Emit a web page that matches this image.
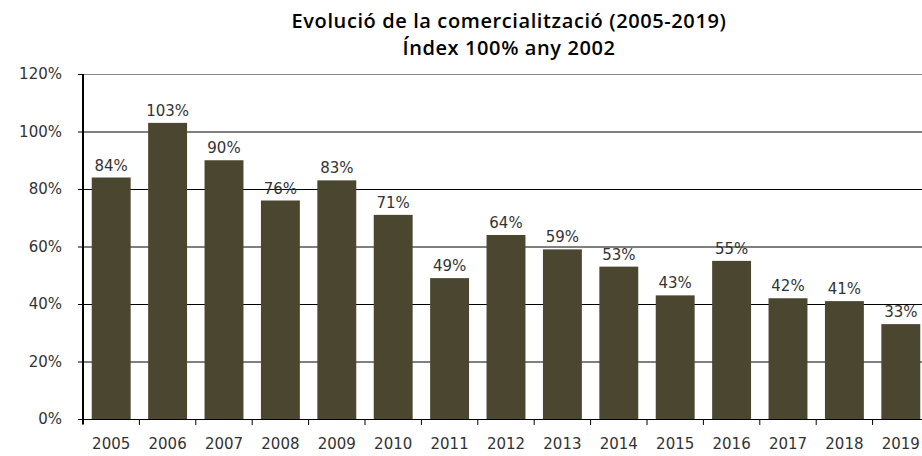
<!DOCTYPE html>
<html>
<head>
<meta charset="utf-8">
<script src="https://cdn.jsdelivr.net/npm/d3@7"></script>
<style>
  body { margin: 0; background: #fff; }
  svg { display: block; }
</style>
</head>
<body>
<div id="chart"></div>
<script>
const years = ["2005", "2006", "2007", "2008", "2009", "2010", "2011", "2012",
  "2013", "2014", "2015", "2016", "2017", "2018", "2019"];
const values = [84, 103, 90, 76, 83, 71, 49, 64, 59, 53, 43, 55, 42, 41, 33];
const yTicks = [0, 20, 40, 60, 80, 100, 120];
const titleLines = ["Evolució de la comercialització (2005-2019)", "Índex 100% any 2002"];

const drawChart = () => {
  const dimensions = {
    width: 922,
    height: 456,
    left: 83,
    right: 929,
    top: 74,
    bottom: 419,
  };
  const barColor = "#4b4630";
  const textColor = "#333";

  const svg = d3
    .select("#chart")
    .append("svg")
    .attr("width", dimensions.width)
    .attr("height", dimensions.height);

  // Scales
  const xScale = d3
    .scaleBand()
    .domain(years)
    .range([dimensions.left, dimensions.right])
    .paddingInner(0.31)
    .paddingOuter(0.155);

  const yScale = d3
    .scaleLinear()
    .domain([0, 120])
    .range([dimensions.bottom, dimensions.top]);

  // Title
  svg
    .append("g")
    .selectAll("text")
    .data(titleLines)
    .join("text")
    .attr("x", 509)
    .attr("y", (d, i) => 28 + i * 27)
    .attr("text-anchor", "middle")
    .attr("font-family", "'Open Sans', sans-serif")
    .attr("font-weight", 600)
    .attr("font-size", "20px")
    .attr("letter-spacing", "0.6px")
    .attr("fill", "#000")
    .text((d) => d);

  // Gridlines
  svg
    .append("g")
    .selectAll("line")
    .data(yTicks.filter((d) => d > 0))
    .join("line")
    .attr("x1", dimensions.left)
    .attr("x2", dimensions.right)
    .attr("y1", (d) => yScale(d) + 0.5)
    .attr("y2", (d) => yScale(d) + 0.5)
    .attr("stroke", (d) => (d === 120 ? "#888" : "#000"))
    .attr("stroke-width", 1);

  // Bars
  svg
    .append("g")
    .selectAll("rect")
    .data(values)
    .join("rect")
    .attr("x", (d, i) => xScale(years[i]))
    .attr("y", (d) => yScale(d))
    .attr("width", xScale.bandwidth())
    .attr("height", (d) => yScale(0) - yScale(d))
    .attr("fill", barColor);

  // Bar labels
  svg
    .append("g")
    .selectAll("text")
    .data(values)
    .join("text")
    .attr("x", (d, i) => xScale(years[i]) + xScale.bandwidth() / 2)
    .attr("y", (d) => yScale(d) - 7)
    .attr("text-anchor", "middle")
    .attr("font-family", "'DejaVu Sans', sans-serif")
    .attr("font-size", "15px")
    .attr("fill", textColor)
    .text((d) => d + "%");

  // Y axis
  const yAxis = d3
    .axisLeft(yScale)
    .tickValues(yTicks)
    .tickFormat((d) => d + "%")
    .tickSize(5)
    .tickPadding(16);

  const yAxisGroup = svg
    .append("g")
    .attr("transform", `translate(${dimensions.left},0)`)
    .call(yAxis);
  yAxisGroup.select(".domain").remove();
  yAxisGroup.selectAll(".tick line").attr("stroke", "#000");
  yAxisGroup
    .selectAll(".tick text")
    .attr("font-family", "'DejaVu Sans', sans-serif")
    .attr("font-size", "15px")
    .attr("fill", textColor);

  svg
    .append("line")
    .attr("x1", dimensions.left)
    .attr("x2", dimensions.left)
    .attr("y1", dimensions.top)
    .attr("y2", dimensions.bottom + 5)
    .attr("stroke", "#000")
    .attr("stroke-width", 2);

  // X axis
  const boundary = (i) => dimensions.left + i * xScale.step();
  svg
    .append("line")
    .attr("x1", dimensions.left)
    .attr("x2", dimensions.right)
    .attr("y1", dimensions.bottom + 0.5)
    .attr("y2", dimensions.bottom + 0.5)
    .attr("stroke", "#000");

  svg
    .append("g")
    .selectAll("line")
    .data(d3.range(years.length + 1))
    .join("line")
    .attr("x1", (d) => boundary(d))
    .attr("x2", (d) => boundary(d))
    .attr("y1", dimensions.bottom)
    .attr("y2", dimensions.bottom + 6)
    .attr("stroke", "#000");

  svg
    .append("g")
    .selectAll("text")
    .data(years)
    .join("text")
    .attr("x", (d) => xScale(d) + xScale.bandwidth() / 2)
    .attr("y", 449)
    .attr("text-anchor", "middle")
    .attr("font-family", "'DejaVu Sans', sans-serif")
    .attr("font-size", "15px")
    .attr("fill", textColor)
    .text((d) => d);
};

drawChart();
</script>
</body>
</html>
